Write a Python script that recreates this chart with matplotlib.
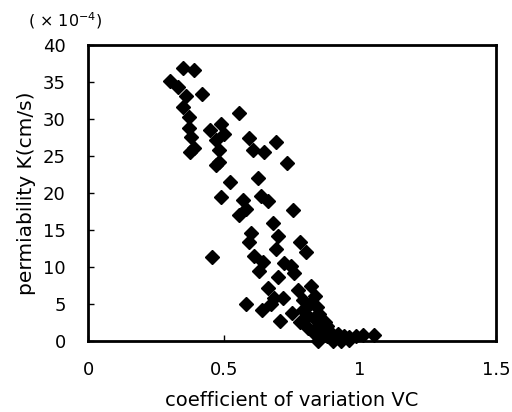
import matplotlib
matplotlib.use("Agg")
import matplotlib.pyplot as plt

vc = [0.30, 0.35, 0.39, 0.33, 0.36, 0.42, 0.35, 0.37, 0.37, 0.38, 0.39, 0.375,
      0.45, 0.49, 0.47, 0.48, 0.48, 0.49, 0.555, 0.59, 0.605, 0.645, 0.69, 0.73,
      0.755, 0.52, 0.57, 0.58, 0.555, 0.625, 0.635, 0.66, 0.60, 0.59, 0.68, 0.70,
      0.78, 0.80, 0.746, 0.757, 0.61, 0.643, 0.63, 0.70, 0.684, 0.66, 0.58, 0.456,
      0.64, 0.673, 0.717, 0.706, 0.75, 0.77, 0.79, 0.82, 0.835, 0.78, 0.81, 0.83,
      0.84, 0.845, 0.83, 0.85, 0.86, 0.87, 0.88, 0.90, 0.92, 0.94, 0.96, 0.985,
      1.01, 1.05, 0.845, 0.90, 0.93, 0.96, 0.79, 0.81, 0.50, 0.47, 0.69, 0.72,
      0.82, 0.86, 0.88]
K = [35.1, 36.9, 36.6, 34.3, 33.1, 33.4, 31.6, 30.3, 28.8, 27.6, 26.1, 25.5,
     28.5, 29.3, 27.2, 25.8, 24.2, 19.5, 30.8, 27.4, 25.8, 25.5, 26.9, 24.1,
     17.7, 21.5, 19.1, 17.8, 17.0, 22.0, 19.6, 18.9, 14.6, 13.4, 15.9, 14.2,
     13.4, 12.0, 10.1, 9.2, 11.5, 10.7, 9.5, 8.6, 5.8, 7.2, 5.0, 11.4,
     4.2, 5.0, 5.8, 2.7, 3.8, 6.9, 5.5, 7.4, 6.1, 2.6, 1.8, 3.1,
     4.6, 2.0, 1.1, 3.6, 1.5, 2.6, 0.7, 0.8, 0.9, 0.7, 0.5, 0.7,
     0.8, 0.8, 0.0, 0.0, 0.0, 0.1, 4.2, 3.4, 28.0, 23.8, 12.5, 10.5,
     5.2, 1.0, 2.0]

xticks = [0, 0.5, 1, 1.5]
xticklabels = ["0", "0.5", "1", "1.5"]
yticks = [0, 5, 10, 15, 20, 25, 30, 35, 40]

plt.rcParams['font.family'] = ['DejaVu Sans']

fig = plt.figure(figsize=(5.12, 4.12), dpi=100)
ax = fig.add_axes([0.172, 0.172, 0.797, 0.719])
ax.plot(vc, K, linestyle='none', marker='D', markersize=7.2, color='black', clip_on=False)
ax.set_xlim(0, 1.5)
ax.set_ylim(0, 40)
ax.set_xticks(xticks)
ax.set_xticklabels(xticklabels)
ax.set_yticks(yticks)
ax.tick_params(direction='in', length=4, width=1, labelsize=13)
ax.tick_params(axis='y', pad=16)
ax.tick_params(axis='x', pad=14)
for s in ax.spines.values():
    s.set_linewidth(2)
ax.set_xlabel('coefficient of variation VC', fontsize=14, labelpad=9)
ax.set_ylabel('permiability K(cm/s)', fontsize=14.5, labelpad=5)
fig.text(0.055, 0.975, '( \u00d7 10$^{-4}$)', fontsize=11.5, va='top', ha='left')
fig.savefig('out.png', dpi=100)
